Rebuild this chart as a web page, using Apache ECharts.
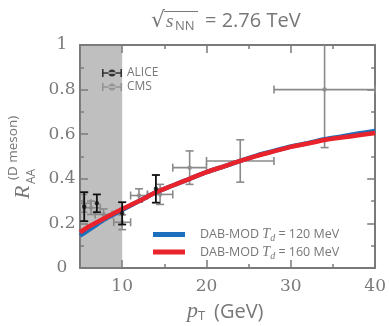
<!DOCTYPE html>
<html><head><meta charset="utf-8">
<script src="https://cdn.jsdelivr.net/npm/echarts@6/dist/echarts.min.js"></script>
<style>html,body{margin:0;padding:0;background:#fff}#c{width:389px;height:326px}</style>
</head><body><div id="c"></div>
<script>
// ---- data ----
const cmsPt     = [5.4, 6.3, 7.8, 10, 12, 14.5, 18, 24, 34];
const cmsRaa    = [0.29, 0.27, 0.24, 0.205, 0.325, 0.33, 0.45, 0.48, 0.80];
const cmsPtLow  = [5, 5.6, 6.8, 9, 11, 13, 16, 20, 28];
const cmsPtHigh = [6.3, 7.4, 8.8, 11, 13, 16, 20, 28, 40];
const cmsErr    = [0.04, 0.03, 0.025, 0.033, 0.03, 0.045, 0.075, 0.095, 0.26];

const alicePt  = [5.5, 7, 10, 14];
const aliceRaa = [0.275, 0.29, 0.245, 0.355];
const aliceErr = [0.065, 0.04, 0.05, 0.062];

const modelPt  = [5, 6, 7, 8, 9, 10, 12, 14, 16, 18, 20, 22, 24, 26, 28, 30, 32, 34, 36, 38, 40];
const model120 = [0.145, 0.17, 0.195, 0.22, 0.24, 0.26, 0.30, 0.34, 0.37, 0.40, 0.43, 0.455, 0.48, 0.505, 0.525, 0.545, 0.56, 0.578, 0.59, 0.603, 0.615];
const model160 = [0.16, 0.185, 0.205, 0.225, 0.245, 0.265, 0.30, 0.34, 0.37, 0.40, 0.43, 0.455, 0.48, 0.503, 0.523, 0.543, 0.558, 0.574, 0.585, 0.595, 0.605];

const bandRange = [5, 10];
const xMajorTicks = [10, 20, 30, 40];
const xMinorTicks = [15, 25, 35];
const name120 = 'DAB-MOD Td = 120 MeV';
const name160 = 'DAB-MOD Td = 160 MeV';

// ---- build ----
const AX = '#7a7a7a';
const cmsData = cmsPt.map((x, i) => [x, cmsRaa[i], cmsPtLow[i], cmsPtHigh[i], cmsErr[i]]);
const aliceData = alicePt.map((x, i) => [x, aliceRaa[i], aliceErr[i]]);

function errRender(color, width, withX) {
  return function (params, api) {
    const x = api.value(0), y = api.value(1);
    const e = withX ? api.value(4) : api.value(2);
    const top = api.coord([x, y + e]), bot = api.coord([x, y - e]);
    const cap = 4;
    const st = { stroke: color, lineWidth: width };
    const ch = [
      { type: 'line', shape: { x1: top[0], y1: top[1], x2: bot[0], y2: bot[1] }, style: st },
      { type: 'line', shape: { x1: top[0] - cap, y1: top[1], x2: top[0] + cap, y2: top[1] }, style: st },
      { type: 'line', shape: { x1: bot[0] - cap, y1: bot[1], x2: bot[0] + cap, y2: bot[1] }, style: st }
    ];
    if (withX) {
      const l = api.coord([api.value(2), y]), h = api.coord([api.value(3), y]);
      ch.push({ type: 'line', shape: { x1: l[0], y1: l[1], x2: h[0], y2: h[1] }, style: st });
      ch.push({ type: 'line', shape: { x1: l[0], y1: l[1] - cap, x2: l[0], y2: l[1] + cap }, style: st });
      ch.push({ type: 'line', shape: { x1: h[0], y1: h[1] - cap, x2: h[0], y2: h[1] + cap }, style: st });
    }
    return { type: 'group', children: ch };
  };
}

function xAxisCfg(pos, ticks, len, labels) {
  return {
    type: 'value', min: 5, max: 40, position: pos,
    axisLine: { show: len === 8, onZero: false, lineStyle: { color: AX, width: 2 } },
    axisTick: { show: true, inside: true, length: len, customValues: ticks, lineStyle: { color: AX, width: 1.5 } },
    axisLabel: labels ? { show: true, customValues: xMajorTicks, fontFamily: 'DejaVu Serif', fontSize: 17, color: AX, margin: 10 } : { show: false },
    splitLine: { show: false }
  };
}
function yAxisCfg(pos, labels) {
  return {
    type: 'value', min: 0, max: 1, interval: 0.2, position: pos,
    axisLine: { show: true, onZero: false, lineStyle: { color: AX, width: 2 } },
    axisTick: { show: true, inside: true, length: 8, lineStyle: { color: AX, width: 1.5 } },
    minorTick: { show: true, splitNumber: 2, length: 4, lineStyle: { color: AX, width: 1.5 } },
    axisLabel: labels ? { show: true, fontFamily: 'DejaVu Serif', fontSize: 17, color: AX, margin: 18, align: 'center' } : { show: false },
    splitLine: { show: false }
  };
}

const legendRich = {
  n: { fontFamily: 'Open Sans', fontSize: 12.5, color: '#777' },
  i: { fontFamily: 'Liberation Serif', fontStyle: 'italic', fontSize: 14, color: '#777' },
  s: { fontFamily: 'Liberation Serif', fontStyle: 'italic', fontSize: 10, color: '#777', padding: [8, 0, 0, 0] }
};

const option = {
  animation: false,
  grid: { left: 80, right: 11, top: 45, bottom: 58 },
  xAxis: [
    xAxisCfg('bottom', xMajorTicks, 8, true),
    xAxisCfg('bottom', xMinorTicks, 4, false),
    xAxisCfg('top', xMajorTicks, 8, false),
    xAxisCfg('top', xMinorTicks, 4, false)
  ],
  yAxis: [yAxisCfg('left', true), yAxisCfg('right', false)],
  legend: [
    {
      data: ['ALICE', 'CMS'], orient: 'vertical', left: 97, top: 61, itemGap: 0,
      itemWidth: 20, itemHeight: 8,
      icon: 'path://M0,3.2H20V4.8H0Z M0,0H1.6V8H0Z M18.4,0H20V8H18.4Z M6.5,4A3.5,3.5 0 1,0 13.5,4A3.5,3.5 0 1,0 6.5,4Z',
      textStyle: { fontFamily: 'Open Sans', fontSize: 12, color: '#777', lineHeight: 14 }
    },
    {
      data: [name120, name160], orient: 'vertical', left: 148, top: 221, itemGap: 0,
      itemWidth: 32, itemHeight: 5, icon: 'rect',
      formatter: n => '{n|DAB-MOD }{i|T}{s|d}{n| = ' + (n === name120 ? '120' : '160') + ' MeV}',
      textStyle: { lineHeight: 17, padding: [0, 0, 0, 10], rich: legendRich }
    }
  ],
  series: [
    { name: name120, type: 'line', data: modelPt.map((x, i) => [x, model120[i]]), showSymbol: false, symbol: 'none', smooth: 0.3,
      lineStyle: { color: '#1c6fbd', width: 4.5 }, itemStyle: { color: '#1c6fbd' }, z: 3 },
    { name: name160, type: 'line', data: modelPt.map((x, i) => [x, model160[i]]), showSymbol: false, symbol: 'none', smooth: 0.3,
      lineStyle: { color: '#e8232b', width: 4.5 }, itemStyle: { color: '#e8232b' }, z: 4 },
    { name: 'CMS err', type: 'custom', data: cmsData, renderItem: errRender('#8a8a8a', 1.6, true), clip: true, z: 2 },
    { name: 'CMS', type: 'scatter', data: cmsData.map(d => [d[0], d[1]]), symbolSize: 4.5, itemStyle: { color: '#8a8a8a' }, z: 2 },
    { name: 'ALICE err', type: 'custom', data: aliceData, renderItem: errRender('#111', 1.8, false), clip: true, z: 5 },
    { name: 'ALICE', type: 'scatter', data: aliceData.map(d => [d[0], d[1]]), symbolSize: 4.5, itemStyle: { color: '#111' }, z: 5 },
    { name: 'band', type: 'line', data: [], z: 10, silent: true,
      markArea: { silent: true, itemStyle: { color: 'rgba(128,128,128,0.5)' }, data: [[{ xAxis: bandRange[0] }, { xAxis: bandRange[1] }]] } }
  ],
  graphic: [
    { type: 'text', x: 151, y: 21, style: { text: '\u221A', fontFamily: 'DejaVu Sans', fontSize: 22, fill: '#777', verticalAlign: 'middle' } },
    { type: 'line', shape: { x1: 164, y1: 11.5, x2: 198, y2: 11.5 }, style: { stroke: '#777', lineWidth: 1.2 } },
    { type: 'text', x: 166, y: 22, style: { text: 's', fontFamily: 'Liberation Serif', fontStyle: 'italic', fontSize: 19, fill: '#777', verticalAlign: 'middle' } },
    { type: 'text', x: 175, y: 26, style: { text: 'NN', fontFamily: 'Open Sans', fontSize: 13, fill: '#777', verticalAlign: 'middle' } },
    { type: 'text', x: 205, y: 21, style: { text: '= 2.76 TeV', fontFamily: 'Open Sans', fontSize: 20, fill: '#777', verticalAlign: 'middle' } },

    { type: 'text', x: 187, y: 311, style: { text: 'p', fontFamily: 'Liberation Serif', fontStyle: 'italic', fontSize: 22, fill: '#777', verticalAlign: 'middle' } },
    { type: 'text', x: 198, y: 316, style: { text: 'T', fontFamily: 'Open Sans', fontSize: 13, fill: '#777', verticalAlign: 'middle' } },
    { type: 'text', x: 214, y: 312, style: { text: '(GeV)', fontFamily: 'Open Sans', fontSize: 20, fill: '#777', verticalAlign: 'middle' } },

    { type: 'text', x: 23, y: 199, rotation: Math.PI / 2, style: { text: 'R', fontFamily: 'Liberation Serif', fontStyle: 'italic', fontSize: 22, fill: '#777', verticalAlign: 'middle' } },
    { type: 'text', x: 32, y: 184, rotation: Math.PI / 2, style: { text: 'AA', fontFamily: 'Open Sans', fontSize: 12, fill: '#777', verticalAlign: 'middle' } },
    { type: 'text', x: 13, y: 180, rotation: Math.PI / 2, style: { text: '(D meson)', fontFamily: 'Open Sans', fontSize: 13.5, fill: '#777', verticalAlign: 'middle' } }
  ]
};
const chart = echarts.init(document.getElementById('c'));
chart.setOption(option);
</script></body></html>
